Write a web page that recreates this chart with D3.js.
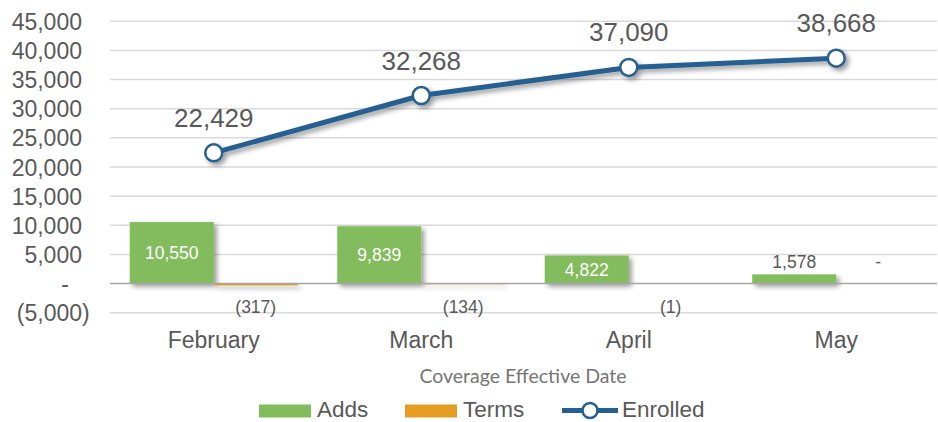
<!DOCTYPE html>
<html><head><meta charset="utf-8">
<script src="https://cdn.jsdelivr.net/npm/d3@7"></script>
<style>
html,body{margin:0;padding:0;background:#fff;}
svg{display:block;font-family:"Liberation Sans",Arial,sans-serif;}
</style></head>
<body><div id="chart"></div>
<script>
const categories = ["February","March","April","May"];
const adds = [10550, 9839, 4822, 1578];
const terms = [-317, -134, -1, 0];
const enrolled = [22429, 32268, 37090, 38668];
const tickValues = [-5000,0,5000,10000,15000,20000,25000,30000,35000,40000,45000];
const seriesNames = ["Adds","Terms","Enrolled"];
const axisTitle = "Coverage Effective Date";

const W = 938, H = 422;
const colors = {Adds:"#83BC5D", Terms:"#E59C22", Enrolled:"#255E91"};
const textColor = "#595959";

const svg = d3.select("#chart").append("svg").attr("width",W).attr("height",H);
const defs = svg.append("defs");
const f = defs.append("filter").attr("id","shadow").attr("x","-20%").attr("y","-20%").attr("width","150%").attr("height","160%");
f.append("feDropShadow").attr("dx",3).attr("dy",3).attr("stdDeviation",2.5).attr("flood-color","#000").attr("flood-opacity",0.4);

const y = d3.scaleLinear().domain([-5000,45000]).range([312.7,21.3]);
const x = d3.scaleBand().domain(categories).range([110,940]).paddingInner(0).paddingOuter(0);
const xs = d3.scaleBand().domain(["Adds","Terms"]).range([0,x.bandwidth()]).paddingInner(0).paddingOuter(0.235);

const fmt = d3.format(",");
function acct(v){ if(v===0) return "-"; return v<0 ? "("+fmt(-v)+")" : fmt(v); }

// gridlines
svg.append("g").selectAll("line").data(tickValues.filter(d=>d!==0)).join("line")
  .attr("x1",110).attr("x2",937).attr("y1",d=>y(d)).attr("y2",d=>y(d))
  .attr("stroke","#d9d9d9").attr("stroke-width",1.5);

// y axis labels via d3 axis
const yAxis = d3.axisLeft(y).tickValues(tickValues).tickFormat(acct).tickSize(0);
const ya = svg.append("g").attr("transform","translate(82,0)").call(yAxis);
ya.select(".domain").remove();
ya.selectAll("text").attr("fill",textColor).attr("font-size",23)
  .attr("font-family","'Liberation Sans',Arial,sans-serif")
  .attr("x",d=> d<0 ? 7.7 : (d===0 ? -13 : 0)).attr("dy","0.35em");

// bars
const bars = svg.append("g").attr("filter","url(#shadow)");
bars.selectAll("rect.adds").data(adds).join("rect").attr("class","adds")
  .attr("x",(d,i)=>x(categories[i])+xs("Adds")).attr("width",xs.bandwidth())
  .attr("y",d=>y(Math.max(0,d))).attr("height",d=>Math.abs(y(d)-y(0)))
  .attr("fill",colors.Adds);
bars.selectAll("rect.terms").data(terms).join("rect").attr("class","terms")
  .attr("x",(d,i)=>x(categories[i])+xs("Terms")).attr("width",xs.bandwidth())
  .attr("y",d=>y(Math.max(0,d))).attr("height",d=>Math.abs(y(d)-y(0)))
  .attr("fill",colors.Terms);

// zero line
svg.append("line").attr("x1",110).attr("x2",937).attr("y1",y(0)).attr("y2",y(0))
  .attr("stroke","#a6a6a6").attr("stroke-width",1.5);

// bar labels
svg.append("g").selectAll("text").data(adds).join("text")
  .attr("x",(d,i)=>x(categories[i])+xs("Adds")+xs.bandwidth()/2)
  .attr("y",d=>{ const h=y(0)-y(d); return h>20 ? (y(d)+y(0))/2 : y(d)-6; })
  .attr("dy",d=> (y(0)-y(d))>20 ? "0.35em" : 0)
  .attr("text-anchor","middle").attr("font-size",17.5)
  .attr("fill",d=> (y(0)-y(d))>20 ? "#fff" : textColor)
  .text(acct);
svg.append("g").selectAll("text").data(terms).join("text")
  .attr("x",(d,i)=>x(categories[i])+xs("Terms")+xs.bandwidth()/2)
  .attr("y",d=> d<0 ? y(0)+29 : y(0)-16)
  .attr("text-anchor","middle").attr("font-size",17.5).attr("fill",textColor)
  .text(acct);

// line
const cx = i => x(categories[i])+x.bandwidth()/2;
const line = d3.line().x((d,i)=>cx(i)).y(d=>y(d));
const lg = svg.append("g").attr("filter","url(#shadow)");
lg.append("path").datum(enrolled).attr("d",line).attr("fill","none")
  .attr("stroke",colors.Enrolled).attr("stroke-width",5).attr("stroke-linejoin","round");
lg.selectAll("circle").data(enrolled).join("circle")
  .attr("cx",(d,i)=>cx(i)).attr("cy",d=>y(d)).attr("r",8.5)
  .attr("fill","#fff").attr("stroke",colors.Enrolled).attr("stroke-width",2.5);
svg.append("g").selectAll("text").data(enrolled).join("text")
  .attr("x",(d,i)=>cx(i)).attr("y",d=>y(d)-26).attr("text-anchor","middle")
  .attr("font-size",26).attr("fill",textColor).text(fmt);

// x axis labels
const xAxis = d3.axisBottom(x).tickSize(0);
const xa = svg.append("g").attr("transform","translate(0,331)").call(xAxis);
xa.select(".domain").remove();
xa.selectAll("text").attr("fill",textColor).attr("font-size",23)
  .attr("font-family","'Liberation Sans',Arial,sans-serif").attr("y",0).attr("dy","0.73em");

// axis title
svg.append("text").attr("x",523).attr("y",383).attr("text-anchor","middle")
  .attr("font-family","Lato,'Open Sans',sans-serif").attr("font-size",19.5).attr("fill","#757575")
  .text(axisTitle);

// legend
const leg = svg.append("g");
const legendItems = [
  {name:seriesNames[0], x:259, type:"bar"},
  {name:seriesNames[1], x:405, type:"bar"},
  {name:seriesNames[2], x:562, type:"line"}
];
const ly = 416.5;
legendItems.forEach(it=>{
  if(it.type==="bar"){
    leg.append("rect").attr("x",it.x).attr("y",ly-12).attr("width",52).attr("height",13).attr("fill",colors[it.name]);
    leg.append("text").attr("x",it.x+58).attr("y",ly).attr("font-size",22.5).attr("fill",textColor).text(it.name);
  } else {
    leg.append("line").attr("x1",it.x).attr("x2",it.x+56).attr("y1",ly-6).attr("y2",ly-6)
      .attr("stroke",colors.Enrolled).attr("stroke-width",5);
    leg.append("circle").attr("cx",it.x+28).attr("cy",ly-6).attr("r",7.5).attr("fill","#fff")
      .attr("stroke",colors.Enrolled).attr("stroke-width",2.5);
    leg.append("text").attr("x",it.x+60).attr("y",ly).attr("font-size",22.5).attr("fill",textColor).text(it.name);
  }
});
</script></body></html>
